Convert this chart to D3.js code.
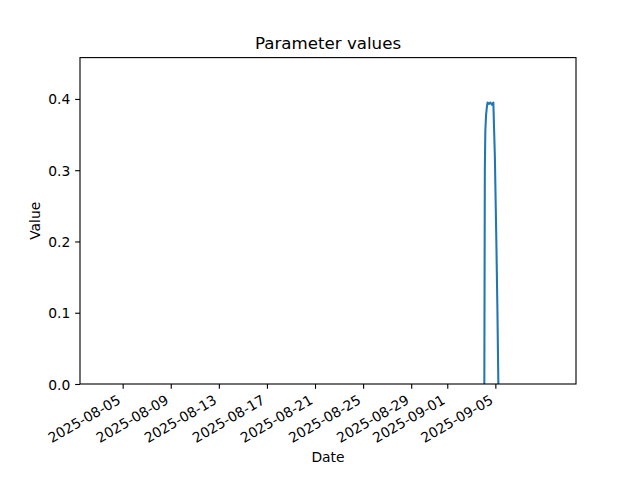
<!DOCTYPE html>
<html>
<head>
<meta charset="utf-8">
<script src="https://cdn.jsdelivr.net/npm/d3@7"></script>
<style>
  html, body { margin: 0; padding: 0; background: #fff; }
  svg { display: block; }
  text { font-family: "DejaVu Sans", sans-serif; fill: #000; }
</style>
</head>
<body>
<script>
// ---- data ----
const times = [
  "2025-09-04T02:00Z", "2025-09-04T03:00Z", "2025-09-04T04:00Z", "2025-09-04T05:30Z",
  "2025-09-04T07:00Z", "2025-09-04T08:30Z", "2025-09-04T11:00Z", "2025-09-04T14:00Z",
  "2025-09-04T17:00Z", "2025-09-04T20:00Z", "2025-09-04T23:00Z", "2025-09-05T02:00Z",
  "2025-09-05T04:00Z", "2025-09-05T06:00Z"
];
const values = [
  0.0, 0.30, 0.355, 0.378,
  0.388, 0.395, 0.393, 0.395,
  0.392, 0.395, 0.32, 0.20,
  0.11, 0.0
];
const xDomain = ["2025-08-01T10:50Z", "2025-09-11T17:00Z"];
const yDomain = [0, 0.458];
const xTickDates = ["2025-08-05", "2025-08-09", "2025-08-13", "2025-08-17", "2025-08-21",
                    "2025-08-25", "2025-08-29", "2025-09-01", "2025-09-05"];
const yTickValues = [0.0, 0.1, 0.2, 0.3, 0.4];
const titleText = "Parameter values";
const xLabel = "Date";
const yLabel = "Value";

// ---- layout ----
const W = 640, H = 480;
const L = 80, R = 576, T = 57.6, B = 384;
const fs = 13.89;

const svg = d3.select("body").append("svg").attr("width", W).attr("height", H);

const x = d3.scaleUtc().domain(xDomain.map(d => new Date(d))).range([L, R]);
const y = d3.scaleLinear().domain(yDomain).range([B, T]);

const data = times.map((t, i) => ({ t: new Date(t), v: values[i] }));

// clip
svg.append("defs").append("clipPath").attr("id", "clip")
  .append("rect").attr("x", L).attr("y", T).attr("width", R - L).attr("height", B - T);

// line
svg.append("path")
  .datum(data)
  .attr("clip-path", "url(#clip)")
  .attr("fill", "none")
  .attr("stroke", "#1f77b4")
  .attr("stroke-width", 2.08)
  .attr("stroke-linejoin", "round")
  .attr("stroke-linecap", "square")
  .attr("d", d3.line().x(d => x(d.t)).y(d => y(d.v)));

// x axis
const xTicks = xTickDates.map(d => new Date(d + "T00:00Z"));
const xAxis = d3.axisBottom(x).tickValues(xTicks).tickSize(4.86).tickPadding(0)
  .tickFormat(d3.utcFormat("%Y-%m-%d"));
const gx = svg.append("g").attr("transform", `translate(0,${B})`).call(xAxis);
gx.select(".domain").remove();
gx.selectAll(".tick line").attr("stroke", "#000").attr("stroke-width", 1.11);
gx.selectAll(".tick text")
  .attr("font-size", fs)
  .attr("font-family", "DejaVu Sans")
  .attr("fill", "#000")
  .attr("text-anchor", "end")
  .attr("dy", null)
  .attr("y", null)
  .attr("transform", "translate(-1.6,18.9) rotate(-30)");

// y axis
const yAxis = d3.axisLeft(y).tickValues(yTickValues).tickSize(4.86).tickPadding(4.86)
  .tickFormat(d3.format(".1f"));
const gy = svg.append("g").attr("transform", `translate(${L},0)`).call(yAxis);
gy.select(".domain").remove();
gy.selectAll(".tick line").attr("stroke", "#000").attr("stroke-width", 1.11);
gy.selectAll(".tick text")
  .attr("font-size", fs)
  .attr("font-family", "DejaVu Sans")
  .attr("fill", "#000")
  .attr("dy", "0.36em");

// frame
svg.append("rect")
  .attr("x", L).attr("y", T).attr("width", R - L).attr("height", B - T)
  .attr("fill", "none").attr("stroke", "#000").attr("stroke-width", 1.11);

// title & labels
svg.append("text").attr("x", (L + R) / 2).attr("y", 49.3)
  .attr("text-anchor", "middle").attr("font-size", 16.67).text(titleText);
svg.append("text").attr("x", (L + R) / 2).attr("y", 462)
  .attr("text-anchor", "middle").attr("font-size", fs).text(xLabel);
svg.append("text").attr("transform", `translate(39.5,${(T + B) / 2}) rotate(-90)`)
  .attr("text-anchor", "middle").attr("font-size", fs).text(yLabel);
</script>
</body>
</html>
